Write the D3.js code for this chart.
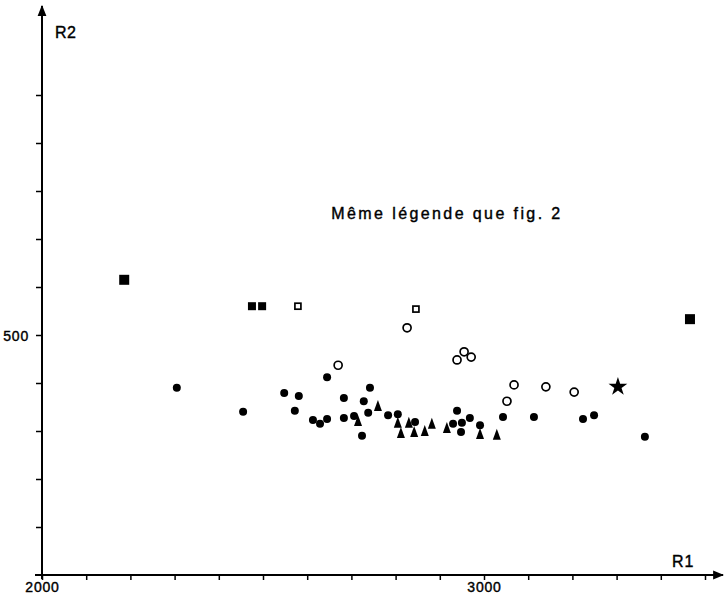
<!DOCTYPE html>
<html>
<head>
<meta charset="utf-8">
<script src="https://cdn.jsdelivr.net/npm/d3@7"></script>
<style>
  body { margin: 0; background: #fff; }
  svg { display: block; font-family: "Liberation Sans", Arial, sans-serif; }
</style>
</head>
<body>
<div id="chart"></div>
<script>

// Data (R1, R2)

var filledCircles = [
    [2305, 390], [2455, 340], [2548, 379], [2572, 342], [2581, 373],
    [2613, 323], [2629, 315], [2645, 325], [2645, 412], [2683, 369],
    [2683, 327], [2706, 331], [2724, 290], [2728, 362], [2738, 338],
    [2742, 390], [2783, 333], [2805, 335], [2844, 319], [2939, 342],
    [2930, 315], [2950, 317], [2948, 298], [2968, 327], [2991, 312],
    [3043, 329], [3113, 329], [3224, 325], [3249, 333], [3364, 288]
];
var triangles = [
    [2715, 321], [2760, 352], [2805, 317], [2812, 296], [2830, 317],
    [2842, 298], [2866, 300], [2882, 315], [2916, 306], [2991, 294],
    [3029, 292]
];
var openCircles = [
    [2670, 437], [2826, 515], [2939, 448], [2955, 465], [2971, 454],
    [3052, 362], [3068, 396], [3140, 392], [3204, 381]
];
var openSquares = [ [2579, 560], [2846, 554] ];
var smallSquares = [ [2475, 560], [2498, 560] ];
var bigSquares = [ [2186, 615], [3466, 533] ];
var stars = [ [3303, 392] ];

var xTicks = d3.range(2000, 3600, 100);
var yTicks = d3.range(100, 1100, 100);
var xLabels = [2000, 3000];
var yLabels = [500];

// Chart size

var width = 728, height = 601;

var x = d3.scaleLinear().domain([2000, 3000]).range([42, 484]);
var y = d3.scaleLinear().domain([0, 1000]).range([575, 95]);

var svg = d3.select("#chart").append("svg")
    .attr("width", width)
    .attr("height", height);

var defs = svg.append("defs");
defs.append("marker")
    .attr("id", "arrow")
    .attr("viewBox", "0 0 10 10")
    .attr("refX", 9).attr("refY", 5)
    .attr("markerWidth", 11).attr("markerHeight", 11)
    .attr("markerUnits", "userSpaceOnUse")
    .attr("orient", "auto")
    .append("path")
    .attr("d", "M0,1 L10,5 L0,9 Z")
    .attr("fill", "#000");

// Axes

var xAxis = svg.append("g")
    .attr("transform", "translate(0," + y(0) + ")")
    .call(d3.axisBottom(x).tickValues(xTicks).tickSize(5)
        .tickFormat(function (d) { return xLabels.indexOf(d) >= 0 ? d : ""; }));
xAxis.select(".domain").remove();
xAxis.selectAll("line").attr("stroke", "#000").attr("stroke-width", 1.5);
xAxis.selectAll("text")
    .attr("y", 17).attr("dy", 0)
    .style("font-size", "14px")
    .style("letter-spacing", "0.8px")
    .style("fill", "#000")
    .style("stroke", "#000").style("stroke-width", 0.4);

var yAxis = svg.append("g")
    .attr("transform", "translate(" + x(2000) + ",0)")
    .call(d3.axisLeft(y).tickValues(yTicks).tickSize(6)
        .tickFormat(function (d) { return yLabels.indexOf(d) >= 0 ? d : ""; }));
yAxis.select(".domain").remove();
yAxis.selectAll("line").attr("stroke", "#000").attr("stroke-width", 1.5);
yAxis.selectAll("text")
    .attr("x", -13).attr("dy", "0.4em")
    .style("font-size", "14px")
    .style("letter-spacing", "0.8px")
    .style("fill", "#000")
    .style("stroke", "#000").style("stroke-width", 0.4);

svg.append("line")
    .attr("x1", 35).attr("y1", y(0))
    .attr("x2", 723).attr("y2", y(0))
    .attr("stroke", "#000").attr("stroke-width", 2)
    .attr("marker-end", "url(#arrow)");

svg.append("line")
    .attr("x1", x(2000)).attr("y1", 579)
    .attr("x2", x(2000)).attr("y2", 6)
    .attr("stroke", "#000").attr("stroke-width", 2)
    .attr("marker-end", "url(#arrow)");

// Labels

svg.append("text")
    .attr("x", 55).attr("y", 38)
    .text("R2")
    .style("font-size", "16px")
    .style("letter-spacing", "0.5px")
    .style("stroke", "#000").style("stroke-width", 0.4);

svg.append("text")
    .attr("x", 672).attr("y", 567)
    .text("R1")
    .style("font-size", "16px")
    .style("letter-spacing", "1px")
    .style("stroke", "#000").style("stroke-width", 0.4);

svg.append("text")
    .attr("x", 447).attr("y", 219)
    .attr("text-anchor", "middle")
    .text("Même légende que fig. 2")
    .style("font-size", "16px")
    .style("letter-spacing", "2.4px")
    .style("stroke", "#000").style("stroke-width", 0.4);

// Points

var pts = svg.append("g");

pts.selectAll(".fc").data(filledCircles).enter().append("circle")
    .attr("cx", function (d) { return x(d[0]); })
    .attr("cy", function (d) { return y(d[1]); })
    .attr("r", 4)
    .attr("fill", "#000");

pts.selectAll(".tr").data(triangles).enter().append("path")
    .attr("transform", function (d) { return "translate(" + x(d[0]) + "," + y(d[1]) + ")"; })
    .attr("d", "M0,-6 L4,5 L-4,5 Z")
    .attr("fill", "#000");

pts.selectAll(".oc").data(openCircles).enter().append("circle")
    .attr("cx", function (d) { return x(d[0]); })
    .attr("cy", function (d) { return y(d[1]); })
    .attr("r", 4)
    .attr("fill", "#fff")
    .attr("stroke", "#000")
    .attr("stroke-width", 1.7);

pts.selectAll(".os").data(openSquares).enter().append("rect")
    .attr("x", function (d) { return x(d[0]) - 3; })
    .attr("y", function (d) { return y(d[1]) - 3; })
    .attr("width", 6).attr("height", 6)
    .attr("fill", "#fff")
    .attr("stroke", "#000")
    .attr("stroke-width", 1.7);

pts.selectAll(".ss").data(smallSquares).enter().append("rect")
    .attr("x", function (d) { return x(d[0]) - 4; })
    .attr("y", function (d) { return y(d[1]) - 4; })
    .attr("width", 8).attr("height", 8)
    .attr("fill", "#000");

pts.selectAll(".bs").data(bigSquares).enter().append("rect")
    .attr("x", function (d) { return x(d[0]) - 5; })
    .attr("y", function (d) { return y(d[1]) - 5; })
    .attr("width", 10).attr("height", 10)
    .attr("fill", "#000");

pts.selectAll(".st").data(stars).enter().append("path")
    .attr("transform", function (d) { return "translate(" + x(d[0]) + "," + y(d[1]) + ")"; })
    .attr("d", d3.symbol().type(d3.symbolStar).size(110))
    .attr("fill", "#000");

</script>
</body>
</html>
